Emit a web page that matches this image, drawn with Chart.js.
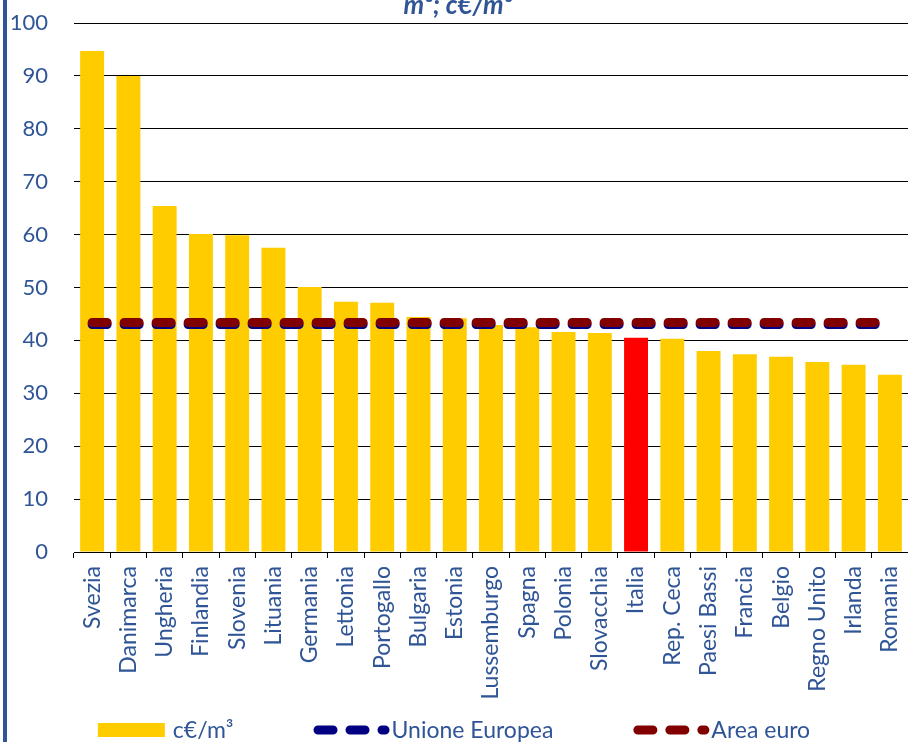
<!DOCTYPE html>
<html>
<head>
<meta charset="utf-8">
<script src="https://cdn.jsdelivr.net/npm/chart.js@4.4.0/dist/chart.umd.min.js"></script>
<style>
  html, body { margin: 0; padding: 0; background: #fff; }
  #wrap { position: relative; width: 908px; height: 742px; }
  #bordo { position: absolute; left: 3px; top: 0; width: 4px; height: 742px; background: #2F5597; }
</style>
</head>
<body>
<div id="wrap">
  <canvas id="grafico" width="908" height="742"></canvas>
  <div id="bordo"></div>
</div>
<script>
// dati
const paesi = ['Svezia', 'Danimarca', 'Ungheria', 'Finlandia', 'Slovenia', 'Lituania', 'Germania',
  'Lettonia', 'Portogallo', 'Bulgaria', 'Estonia', 'Lussemburgo', 'Spagna', 'Polonia', 'Slovacchia',
  'Italia', 'Rep. Ceca', 'Paesi Bassi', 'Francia', 'Belgio', 'Regno Unito', 'Irlanda', 'Romania'];
const prezzi = [94.7, 90.0, 65.4, 60.1, 59.9, 57.5, 50.1, 47.3, 47.1, 44.4, 44.2, 42.9, 42.5, 41.6, 41.4,
  40.5, 40.3, 38.0, 37.4, 36.9, 35.9, 35.4, 33.5];
const mediaUE = 43.0;
const mediaEuro = 43.4;
const titolo = 'm³; c€/m³';
const etichette = ['c€/m³', 'Unione Europea', 'Area euro'];

const BLU = '#2F5597';
const FONT = '23px Lato';

const titoloPlugin = {
  id: 'titolo',
  afterDraw(chart) {
    const ctx = chart.ctx;
    ctx.save();
    ctx.font = 'italic bold 26px Lato';
    ctx.fillStyle = BLU;
    ctx.textAlign = 'center';
    ctx.textBaseline = 'alphabetic';
    ctx.fillText(titolo, 458, 14);
    ctx.restore();
  }
};

// legenda disegnata a mano (campioni tratteggiati come nell'originale)
const legendaPlugin = {
  id: 'legenda',
  afterDraw(chart) {
    const ctx = chart.ctx;
    ctx.save();
    ctx.font = FONT;
    const items = chart.data.datasets.slice().sort((a, b) => b.order - a.order).map(ds => ({
      text: ds.label,
      tipo: ds.type || 'bar',
      colore: ds.type === 'line' ? ds.borderColor : '#FFCC00',
      campione: ds.type === 'line' ? 76 : 67,
      gap: ds.type === 'line' ? 2 : 8
    }));
    const spazio = 80;
    let tot = 0;
    items.forEach((it, i) => {
      it.w = it.campione + it.gap + ctx.measureText(it.text).width;
      tot += it.w + (i > 0 ? spazio : 0);
    });
    let x = (chart.width - tot) / 2;
    const y = 730;
    items.forEach(it => {
      if (it.tipo === 'bar') {
        ctx.fillStyle = it.colore;
        ctx.fillRect(x, y - 7, 67, 14);
      } else {
        ctx.strokeStyle = it.colore;
        ctx.lineWidth = 9;
        ctx.lineCap = 'round';
        ctx.setLineDash([15, 17]);
        ctx.beginPath();
        ctx.moveTo(x + 4.5, y);
        ctx.lineTo(x + 71.5, y);
        ctx.stroke();
        ctx.setLineDash([]);
      }
      ctx.fillStyle = BLU;
      ctx.textAlign = 'left';
      ctx.textBaseline = 'middle';
      ctx.fillText(it.text, x + it.campione + it.gap, y + 1);
      x += it.w + spazio;
    });
    ctx.restore();
  }
};

const sfondoPlugin = {
  id: 'sfondo',
  beforeDraw(chart) {
    const ctx = chart.ctx;
    ctx.save();
    ctx.fillStyle = '#fff';
    ctx.fillRect(0, 0, chart.width, chart.height);
    ctx.restore();
  }
};

new Chart(document.getElementById('grafico').getContext('2d'), {
  data: {
    labels: paesi,
    datasets: [
      {
        type: 'line',
        label: etichette[2],
        data: paesi.map(() => mediaEuro),
        borderColor: '#800000',
        borderWidth: 9,
        borderDash: [15, 17],
        borderCapStyle: 'round',
        pointRadius: 0,
        order: 1
      },
      {
        type: 'line',
        label: etichette[1],
        data: paesi.map(() => mediaUE),
        borderColor: '#000080',
        borderWidth: 9,
        borderDash: [15, 17],
        borderCapStyle: 'round',
        pointRadius: 0,
        order: 2
      },
      {
        type: 'bar',
        label: etichette[0],
        data: prezzi,
        backgroundColor: paesi.map(p => p === 'Italia' ? '#FF0000' : '#FFCC00'),
        barPercentage: 0.66,
        categoryPercentage: 1,
        order: 3
      }
    ]
  },
  options: {
    responsive: false,
    maintainAspectRatio: false,
    animation: false,
    devicePixelRatio: 1,
    layout: { padding: { top: 23, right: 0, bottom: 0, left: 0 } },
    plugins: {
      legend: { display: false },
      title: { display: false },
      tooltip: { enabled: false }
    },
    scales: {
      x: {
        afterFit: s => { s.height = 190; s.paddingLeft = 0; s.paddingRight = 0; },
        grid: {
          display: true,
          drawOnChartArea: false,
          drawTicks: true,
          tickLength: 6,
          color: '#000',
          offset: true
        },
        border: { display: true, color: '#000', width: 1 },
        ticks: {
          color: BLU,
          font: { family: 'Lato', size: 23 },
          minRotation: 90,
          maxRotation: 90,
          autoSkip: false,
          padding: 8
        }
      },
      y: {
        min: 0,
        max: 100,
        afterFit: s => { s.width = 74; s.paddingTop = 0; s.paddingBottom = 0; },
        grid: { color: '#000', lineWidth: 1, drawTicks: false },
        border: { display: false },
        ticks: {
          stepSize: 10,
          color: BLU,
          font: { family: 'Lato', size: 22 },
          padding: 26
        }
      }
    }
  },
  plugins: [sfondoPlugin, titoloPlugin, legendaPlugin]
});
</script>
</body>
</html>
